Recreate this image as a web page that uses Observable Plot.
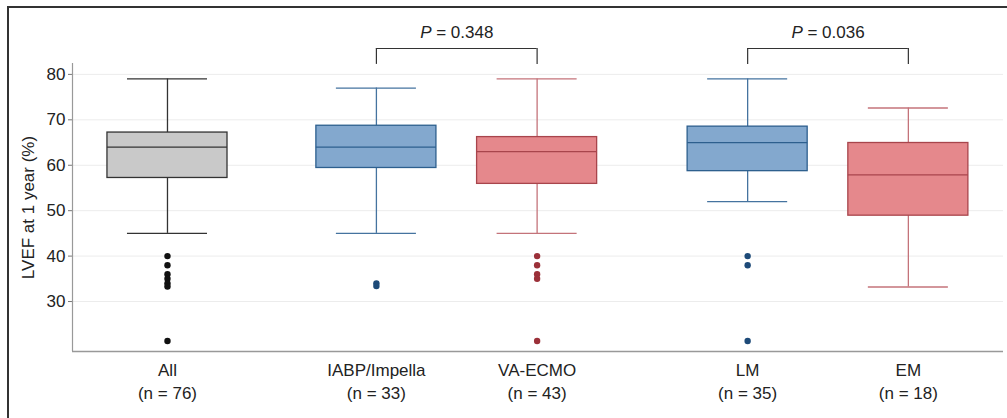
<!DOCTYPE html>
<html>
<head>
<meta charset="utf-8">
<script src="https://cdn.jsdelivr.net/npm/d3@7"></script>
<script src="https://cdn.jsdelivr.net/npm/@observablehq/plot@0.6"></script>
<style>
  html, body { margin: 0; padding: 0; background: #fff; }
  #wrap { position: relative; width: 1007px; height: 418px; overflow: hidden; }
  #border { position: absolute; left: 7px; top: 6px; right: -10px; bottom: -10px;
            border-left: 2px solid #333; border-top: 2px solid #333; pointer-events: none; }
  svg { font-family: "Liberation Sans", Arial, sans-serif; }
</style>
</head>
<body>
<div id="wrap"><div id="chart"></div><div id="border"></div></div>
<script>
// ---- data ----
const groups = ["All", "IABP/Impella", "VA-ECMO", "LM", "EM"];
const counts = [76, 33, 43, 35, 18];
const xpos = [1, 2.3, 3.3, 4.61, 5.61];
const colorKey = ["all", "blue", "red", "blue", "red"];
const whiskerLow = [45, 45, 45, 52, 33.2];
const q1 = [57.2, 59.4, 55.9, 58.7, 48.9];
const median = [64, 64, 63, 65, 57.9];
const q3 = [67.2, 68.7, 66.2, 68.5, 64.9];
const whiskerHigh = [79, 77, 79, 79, 72.6];
const outliers = [
  [40, 38, 36, 35, 34, 33.3, 21.3],
  [34, 33.4],
  [40, 38, 36, 35, 21.3],
  [40, 38, 21.3],
  []
];
const yTicks = [30, 40, 50, 60, 70, 80];
const comparisons = [
  {from: "IABP/Impella", to: "VA-ECMO", p: "0.348"},
  {from: "LM", to: "EM", p: "0.036"}
];

// ---- styles ----
const fills = {all: "#c9c9c9", blue: "#83a8ce", red: "#e5888c"};
const strokes = {all: "#333333", blue: "#2d5f8e", red: "#a8454c"};
const whiskerStrokes = {all: "#333333", blue: "#45739f", red: "#c4737a"};
const dotFills = {all: "#111111", blue: "#1d4a78", red: "#9b3039"};

const xDomain = [0.409, 6.202];
const yDomain = [19, 82.4];
const boxW = 0.747, capW = 0.498;
const bracketTop = 85.7, bracketTip = 82.2, pLabelY = 89.2;

const boxes = groups.map((g, i) => ({
  group: g, n: counts[i], x: xpos[i], key: colorKey[i],
  lo: whiskerLow[i], q1: q1[i], med: median[i], q3: q3[i], hi: whiskerHigh[i]
}));
const points = boxes.flatMap((b, i) => outliers[i].map(v => ({x: b.x, y: v, key: b.key})));
const posOf = Object.fromEntries(groups.map((g, i) => [g, xpos[i]]));
const brackets = comparisons.map(c => ({x1: posOf[c.from], x2: posOf[c.to], label: "P = " + c.p}));

const font = 17;

const plot = Plot.plot({
  width: 1007,
  height: 418,
  marginLeft: 72,
  marginRight: 4,
  marginTop: 63,
  marginBottom: 67,
  style: {fontSize: font + "px", fontFamily: '"Liberation Sans", Arial, sans-serif', color: "#222", background: "transparent"},
  x: {type: "linear", domain: xDomain, axis: null},
  y: {domain: yDomain, axis: null},
  marks: [
    Plot.ruleY(yTicks, {stroke: "#ececec", strokeWidth: 1}),
    Plot.axisY({ticks: yTicks, tickSize: 4, tickPadding: 3, stroke: "#777", fill: "#222", label: null, fontSize: font}),
    Plot.ruleX([xDomain[0]], {stroke: "#999", strokeWidth: 1.2}),
    Plot.ruleY([yDomain[0]], {stroke: "#999", strokeWidth: 1.5}),
    // whiskers
    Plot.ruleX(boxes, {x: "x", y1: "q3", y2: "hi", stroke: d => whiskerStrokes[d.key], strokeWidth: 1.3}),
    Plot.ruleX(boxes, {x: "x", y1: "lo", y2: "q1", stroke: d => whiskerStrokes[d.key], strokeWidth: 1.3}),
    Plot.ruleY(boxes, {y: "hi", x1: d => d.x - capW / 2, x2: d => d.x + capW / 2, stroke: d => whiskerStrokes[d.key], strokeWidth: 1.3}),
    Plot.ruleY(boxes, {y: "lo", x1: d => d.x - capW / 2, x2: d => d.x + capW / 2, stroke: d => whiskerStrokes[d.key], strokeWidth: 1.3}),
    // boxes
    Plot.rect(boxes, {x1: d => d.x - boxW / 2, x2: d => d.x + boxW / 2, y1: "q1", y2: "q3",
      fill: d => fills[d.key], stroke: d => strokes[d.key], strokeWidth: 1.3}),
    Plot.ruleY(boxes, {y: "med", x1: d => d.x - boxW / 2, x2: d => d.x + boxW / 2, stroke: d => strokes[d.key], strokeWidth: 1.3}),
    // outliers
    Plot.dot(points, {x: "x", y: "y", r: 3.2, fill: d => dotFills[d.key], stroke: "none"}),
    // x labels
    Plot.text(boxes, {x: "x", y: yDomain[0], text: "group", dy: 19, fill: "#222", fontSize: font, lineAnchor: "middle"}),
    Plot.text(boxes, {x: "x", y: yDomain[0], text: d => `(n = ${d.n})`, dy: 42, fill: "#222", fontSize: font, lineAnchor: "middle"}),
    // y label
    Plot.text(["LVEF at 1 year (%)"], {frameAnchor: "left", dx: -44, rotate: -90, text: d => d, fill: "#222", fontSize: font, textAnchor: "middle", lineAnchor: "middle"}),
    // brackets
    Plot.ruleY(brackets, {y: bracketTop, x1: "x1", x2: "x2", stroke: "#333", strokeWidth: 1.2}),
    Plot.ruleX(brackets, {x: "x1", y1: bracketTip, y2: bracketTop, stroke: "#333", strokeWidth: 1.2}),
    Plot.ruleX(brackets, {x: "x2", y1: bracketTip, y2: bracketTop, stroke: "#333", strokeWidth: 1.2}),
    Plot.text(brackets, {x: d => (d.x1 + d.x2) / 2, y: pLabelY, text: "label", fill: "#222", fontSize: font, lineAnchor: "middle", className: "pval"})
  ]
});

document.getElementById("chart").appendChild(plot);

// italicize the "P" in p-value labels
d3.select(plot).selectAll(".pval text").each(function () {
  const t = this.textContent;
  if (t.startsWith("P")) {
    const sel = d3.select(this);
    sel.text(null);
    sel.append("tspan").attr("font-style", "italic").text("P");
    sel.append("tspan").text(t.slice(1));
  }
});
</script>
</body>
</html>
